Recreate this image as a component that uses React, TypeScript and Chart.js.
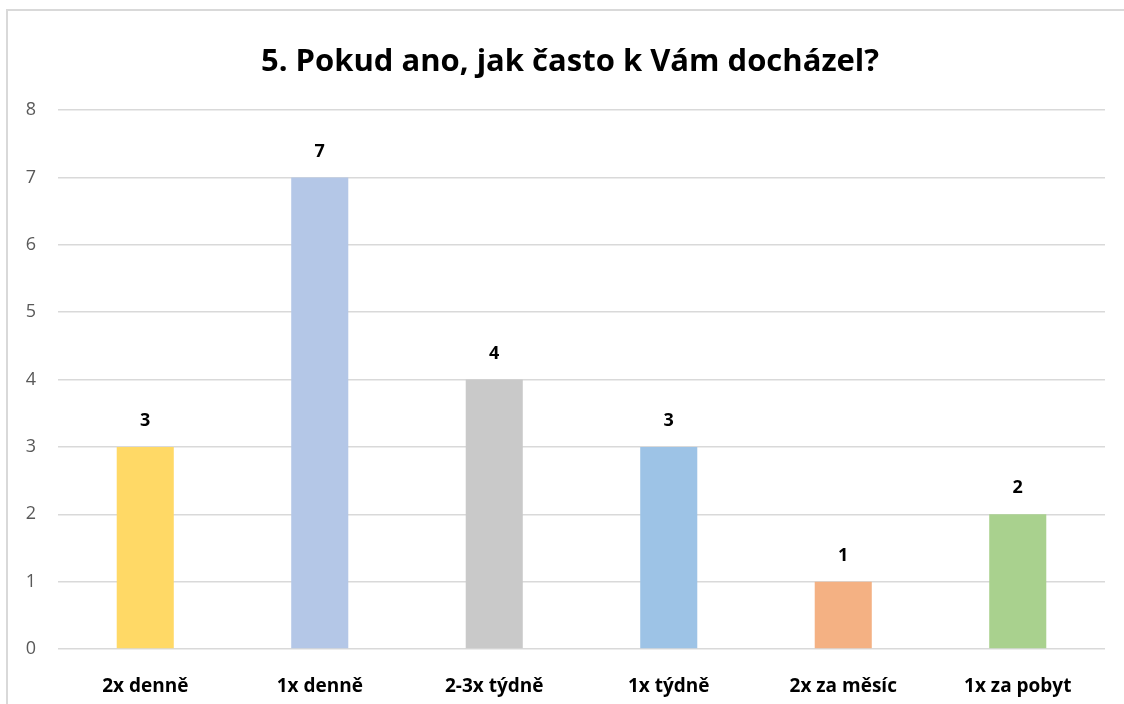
import React, { useEffect, useRef } from "react";
import { Chart, registerables } from "chart.js";

Chart.register(...registerables);

const title = "5. Pokud ano, jak často k Vám docházel?";
const categories = ["2x denně", "1x denně", "2-3x týdně", "1x týdně", "2x za měsíc", "1x za pobyt"];
const values = [3, 7, 4, 3, 1, 2];
const barColors = ["#FFD966", "#B4C7E7", "#C9C9C9", "#9DC3E6", "#F4B183", "#A9D18E"];
const yTicks = [0, 1, 2, 3, 4, 5, 6, 7, 8];

const FONT = "'Open Sans', 'Noto Sans', sans-serif";

const valueLabels = {
  id: "valueLabels",
  afterDatasetsDraw(chart: any) {
    const ctx = chart.ctx;
    const meta = chart.getDatasetMeta(0);
    ctx.save();
    ctx.font = `bold 18px ${FONT}`;
    ctx.fillStyle = "#000000";
    ctx.textAlign = "center";
    ctx.textBaseline = "middle";
    meta.data.forEach((bar: any, i: number) => {
      ctx.fillText(String(values[i]), bar.x, bar.y - 26);
    });
    ctx.restore();
  },
};

const chartTitle = {
  id: "chartTitle",
  afterDraw(chart: any) {
    const ctx = chart.ctx;
    ctx.save();
    ctx.font = `bold 31px ${FONT}`;
    ctx.fillStyle = "#000000";
    ctx.textAlign = "center";
    ctx.textBaseline = "middle";
    ctx.fillText(title, chart.chartArea.left + 512, chart.chartArea.top - 48);
    ctx.restore();
  },
};

export default function App() {
  const ref = useRef<HTMLCanvasElement | null>(null);
  useEffect(() => {
    if (!ref.current) return;
    const chart = new Chart(ref.current, {
      type: "bar",
      data: {
        labels: categories,
        datasets: [
          {
            data: values,
            backgroundColor: barColors,
            borderWidth: 0,
            barPercentage: 0.327,
            categoryPercentage: 1,
          },
        ],
      },
      options: {
        animation: false,
        responsive: false,
        maintainAspectRatio: false,
        layout: { padding: { left: 20, right: 19, top: 110, bottom: 0 } },
        plugins: {
          legend: { display: false },
          tooltip: { enabled: false },
          title: { display: false },
        },
        scales: {
          x: {
            grid: { display: false },
            border: { display: false },
            ticks: {
              color: "#000000",
              font: { family: FONT, size: 19, weight: "bold" },
              padding: 18,
              maxRotation: 0,
            },
            afterFit: (s: any) => {
              s.height = 55;
            },
          },
          y: {
            min: 0,
            max: 8,
            grid: { color: "#D9D9D9", lineWidth: 1.5, drawTicks: false },
            border: { display: false },
            afterBuildTicks: (s: any) => {
              s.ticks = yTicks.map((v) => ({ value: v }));
            },
            ticks: {
              color: "#595959",
              font: { family: FONT, size: 18 },
              padding: 22,
            },
            afterFit: (s: any) => {
              s.width = 38;
            },
          },
        },
      },
      plugins: [valueLabels, chartTitle],
    });
    return () => chart.destroy();
  }, []);

  return (
    <div style={{ position: "fixed", left: 0, top: 0, width: 1124, height: 704, overflow: "hidden", background: "#fff" }}>
      <div
        style={{
          position: "absolute",
          left: 6,
          top: 9,
          width: 1140,
          height: 720,
          border: "2px solid #D9D9D9",
          boxSizing: "border-box",
        }}
      />
      <canvas ref={ref} width={1124} height={704} style={{ position: "absolute", left: 0, top: 0 }} />
    </div>
  );
}
